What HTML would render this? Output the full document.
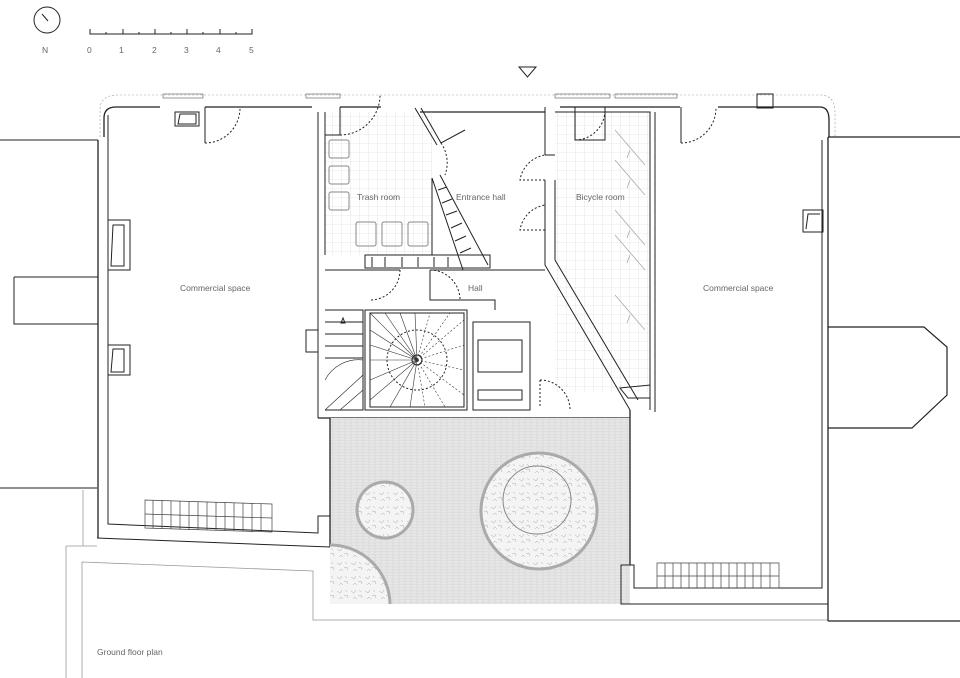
<!DOCTYPE html>
<html><head><meta charset="utf-8"><style>
html,body{margin:0;padding:0;background:#fff}
svg{display:block}
text{font-family:"Liberation Sans",sans-serif;fill:#666;font-size:8.5px}
</style></head><body>
<svg width="960" height="678" viewBox="0 0 960 678" xmlns="http://www.w3.org/2000/svg">
<defs>
<pattern id="grid" width="9" height="9" patternUnits="userSpaceOnUse"><path d="M9 0V9H0" fill="none" stroke="#d4d4d4" stroke-width="0.6"/></pattern>
<pattern id="brick" width="6" height="3" patternUnits="userSpaceOnUse"><rect width="6" height="3" fill="#e6e6e6"/><path d="M0 3H6M3 0V1.5" stroke="#c8c8c8" stroke-width="0.6"/></pattern>
<pattern id="grav" width="14" height="14" patternUnits="userSpaceOnUse"><rect width="14" height="14" fill="#f4f4f4"/><path d="M1 3l3 2 2-3M8 8l3-1 1 3M3 11l2-2 2 2M9 2l2 2" stroke="#aaa" stroke-width="0.5" fill="none"/></pattern>
</defs>
<g fill="none" stroke="#222" stroke-width="1">
<circle cx="47" cy="20" r="13"/><line x1="42" y1="14" x2="48" y2="21"/>
<path d="M90 29V34H252V29M106 32V34M123 29V34M139 32V34M155 29V34M171 32V34M187 29V34M203 32V34M220 29V34M236 32V34"/>
<path d="M519 67H536L527.5 77Z"/>
<path d="M0 140H98M0 488H97M14 277H98M14 277V324H98"/>
<path d="M98 140V538" stroke-width="1.3"/>
<g stroke="#999" stroke-width="0.8">
<path d="M83 490V546M66 546H97M66 546V678M82 562L313 571V620H828M82 562V678"/>
</g>
<path d="M100 137V110Q100 95 118 95H820Q835 95 835 112V137" stroke="#999" stroke-dasharray="2 2" stroke-width="0.6"/>
<path d="M104 137V118Q104 107 116 107H160M205 107H312M340 107H381M420 112H545M560 107H680M718 107H820Q829 107 829 120V137" stroke-width="1.3"/>
<path d="M108 140V524L318 533V516H330M97 538L330 547V418"/>
<path d="M108 140V115"/>
<rect x="175" y="112" width="24" height="14"/><path d="M178 124L180 114H196V124Z"/>
<path d="M205 107V143"/><path d="M205 143A35 35 0 0 0 240 108" stroke-dasharray="2 2"/>
<rect x="108" y="220" width="22" height="50"/><path d="M111 266L113 225H124V266Z"/>
<rect x="108" y="345" width="22" height="30"/><path d="M111 372L113 349H124V372Z"/>
<g stroke="#444" stroke-width="0.7"><path d="M145 500L272 504V532L145 528Z"/>
<path d="M145 514L272 518M153 500V528M162 500V529M171 501V529M180 501V529M189 501V530M198 502V530M207 502V530M216 502V530M225 502V531M234 503V531M243 503V531M252 503V532M261 504V532"/></g>
<rect x="325" y="112" width="107" height="143" fill="url(#grid)" stroke="none"/>
<rect x="555" y="112" width="95" height="280" fill="url(#grid)" stroke="none"/>
<path d="M318 112V418M325 112V255M340 107V135M325 135H340"/>
<path d="M340 135A40 40 0 0 0 380 95" stroke-dasharray="2 2"/>
<g stroke="#888"><rect x="329" y="140" width="20" height="18" rx="2"/><rect x="329" y="166" width="20" height="18" rx="2"/><rect x="329" y="192" width="20" height="18" rx="2"/><rect x="356" y="222" width="20" height="24" rx="2"/><rect x="382" y="222" width="20" height="24" rx="2"/><rect x="408" y="222" width="20" height="24" rx="2"/></g>
<path d="M415 108L437 145M421 108L441 143L465 130"/>
<path d="M441 143A35 35 0 0 1 445 175" stroke-dasharray="2 2"/>
<path d="M432 178L463 270M440 175L488 265M432 178V255"/>
<path d="M438 190L447 187M442 203L452 199M446 215L457 211M451 228L462 223M455 241L466 236M460 253L471 248"/>
<path d="M365 255H490V268H365ZM372 257V267M385 257V267M402 257V267M418 257V267M434 257V267M448 257V267"/>
<path d="M325 270H400M430 270H545"/>
<path d="M400 270A30 30 0 0 1 370 300" stroke-dasharray="2 2"/>
<path d="M430 270V300H495V310"/>
<path d="M430 270A30 30 0 0 1 460 300" stroke-dasharray="2 2"/>
<path d="M545 107V155M545 155H555M545 180V265L630 410M555 180V260L638 400"/>
<path d="M545 180H520A30 30 0 0 1 545 155" stroke-dasharray="2 2"/>
<path d="M545 230H520A30 30 0 0 1 545 205" stroke-dasharray="2 2"/>
<path d="M555 112H650V410M655 112V412M575 107V140H605V107"/>
<path d="M575 140A30 30 0 0 0 605 110" stroke-dasharray="2 2"/>
<path d="M620 388L650 385V398H628Z"/>
<g stroke="#aaa" stroke-width="0.8"><path d="M615 130L645 165M615 160L645 195M615 210L645 245M615 235L645 270M615 295L645 330"/><path d="M630 150l-3 8M630 180l-3 8M630 230l-3 8M630 255l-3 8M630 315l-3 8"/></g>
<rect x="365" y="310" width="102" height="100"/>
<rect x="370" y="313" width="94" height="94"/>
<circle cx="417" cy="360" r="5"/>
<circle cx="417" cy="360" r="30" stroke-dasharray="2 2"/>
<g stroke="#333" stroke-width="0.6">
<path d="M417 360L370 313M417 360L385 313M417 360L400 313M417 360L415 313M417 360L370 330M417 360L370 345M417 360L370 360M417 360L370 380M417 360L370 400M417 360L390 407M417 360L410 407"/>
<path d="M417 360L430 313M417 360L450 313M417 360L464 320M417 360L464 345M417 360L464 370M417 360L464 395M417 360L445 407M417 360L425 407" stroke-dasharray="2 2"/>
</g>
<path d="M325 310H363V410H325M325 322H363M325 334H363M325 346H363M325 358H363"/>
<path d="M325 410L363 375M340 410L363 390" stroke-width="0.6"/>
<path d="M325 380A38 38 0 0 1 363 360" stroke-width="0.6"/>
<path d="M343 318l-2 5h4z"/>
<rect x="306" y="330" width="12" height="22"/>
<path d="M473 322H530V410H473ZM478 340H522V372H478ZM478 390H522V400H478Z"/>
<path d="M540 380V407M540 380A30 30 0 0 1 570 410" stroke-dasharray="2 2"/>
<path d="M318 418H630" stroke-width="1.3"/>
<rect x="330" y="418" width="300" height="186" fill="url(#brick)" stroke="none"/>
<path d="M330 418V547M630 410V565" stroke-width="1.3"/>
<circle cx="385" cy="510" r="28" fill="url(#grav)" stroke="#aaa" stroke-width="3"/>
<circle cx="539" cy="511" r="58" fill="url(#grav)" stroke="#aaa" stroke-width="3"/>
<circle cx="537" cy="500" r="34" stroke="#888"/>
<path d="M330 545A60 60 0 0 1 390 604H330Z" fill="url(#grav)" stroke="none"/>
<path d="M330 545A60 60 0 0 1 390 604" stroke="#aaa" stroke-width="3"/>
<path d="M822 140V588H634V565H621V604H828" />
<path d="M828 137V621" stroke-width="1.3"/>
<path d="M681 107V143"/><path d="M681 143A35 35 0 0 0 716 108" stroke-dasharray="2 2"/>
<rect x="757" y="94" width="16" height="14"/>
<rect x="803" y="210" width="20" height="22"/><path d="M806 229L808 214H820"/>
<g stroke="#444" stroke-width="0.7"><path d="M657 563H779V588H657ZM657 576H779M665 563V588M673 563V588M681 563V588M689 563V588M697 563V588M705 563V588M713 563V588M721 563V588M729 563V588M737 563V588M745 563V588M753 563V588M761 563V588M770 563V588"/></g>
<path d="M828 137H960M828 327H924L947 347V395L912 428H828M828 621H960" stroke-width="1.2"/>
</g>
<g stroke="#555" stroke-width="0.6" fill="none"><rect x="163" y="94" width="40" height="4"/><rect x="306" y="94" width="34" height="4"/><rect x="555" y="94" width="55" height="4"/><rect x="615" y="94" width="62" height="4"/></g>
<text x="42" y="53">N</text>
<text x="87" y="53">0</text><text x="119" y="53">1</text><text x="152" y="53">2</text><text x="184" y="53">3</text><text x="216" y="53">4</text><text x="249" y="53">5</text>
<text x="357" y="200">Trash room</text>
<text x="456" y="200">Entrance hall</text>
<text x="576" y="200">Bicycle room</text>
<text x="468" y="291">Hall</text>
<text x="180" y="291">Commercial space</text>
<text x="703" y="291">Commercial space</text>
<text x="97" y="655">Ground floor plan</text>
</svg>
</body></html>
